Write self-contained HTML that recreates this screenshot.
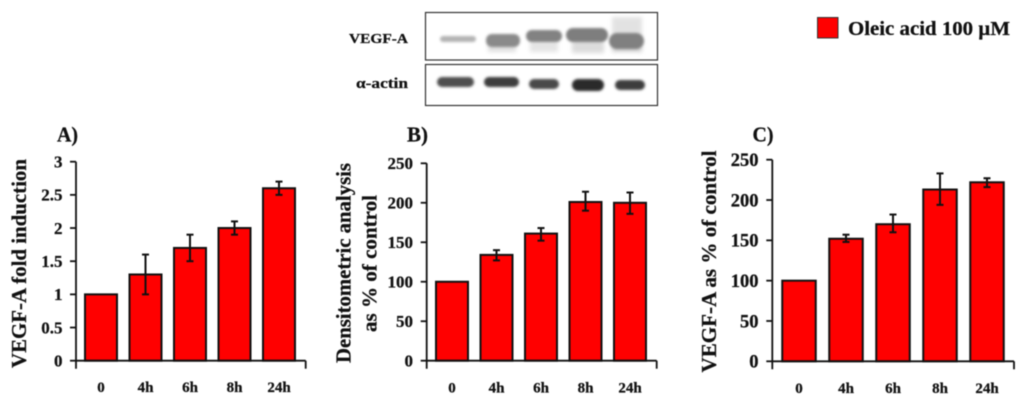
<!DOCTYPE html>
<html lang="en">
<head>
<meta charset="utf-8">
<title>VEGF-A induction by oleic acid</title>
<style>
html,body{margin:0;padding:0;background:#fff;}
body{width:1024px;height:400px;overflow:hidden;}
svg{display:block;filter:blur(0.4px);}
text{font-family:"Liberation Serif",serif;font-weight:bold;fill:#111;stroke:#111;stroke-width:0.25px;}
</style>
</head>
<body>
<svg id="figure" xmlns="http://www.w3.org/2000/svg" width="1024" height="400" viewBox="0 0 1024 400">
  <defs>
    <filter id="blot-blur" x="-30%" y="-80%" width="160%" height="260%"><feGaussianBlur stdDeviation="1.3"/></filter>
    <filter id="smear-blur" x="-30%" y="-50%" width="160%" height="200%"><feGaussianBlur stdDeviation="2"/></filter>
    <clipPath id="blot-clip-top"><rect x="426" y="13" width="231" height="46"/></clipPath>
    <clipPath id="blot-clip-bottom"><rect x="426" y="65" width="231" height="40"/></clipPath>
  </defs>

  <g>
    <g>
      <rect x="425.5" y="12.5" width="232" height="47.5" fill="#fff" stroke="#333" stroke-width="1.2"/>
      <g clip-path="url(#blot-clip-top)">
        <g filter="url(#smear-blur)">
          <rect x="612" y="17" width="30" height="22" fill="#e2e2e2"/>
          <rect x="530" y="40" width="28" height="12" fill="#e4e4e4"/>
          <rect x="572" y="38" width="32" height="15" fill="#dcdcdc"/>
          <rect x="612" y="44" width="30" height="8" fill="#d0d0d0"/>
          <rect x="488" y="44" width="28" height="8" fill="#e0e0e0"/>
        </g>
        <g filter="url(#blot-blur)">
          <rect x="440" y="36" width="36" height="6" rx="3" fill="#b4b4b4"/>
          <rect x="486" y="34" width="34" height="13" rx="6" fill="#8a8a8a"/>
          <rect x="526" y="30" width="36" height="12" rx="6" fill="#828282"/>
          <rect x="566" y="28" width="42" height="14" rx="7" fill="#7e7e7e"/>
          <rect x="609" y="33" width="35" height="16" rx="8" fill="#808080"/>
        </g>
      </g>
    </g>
    <g>
      <rect x="425.5" y="64.5" width="232" height="41" fill="#fff" stroke="#333" stroke-width="1.2"/>
      <g clip-path="url(#blot-clip-bottom)" filter="url(#blot-blur)">
        <rect x="437" y="77" width="37" height="10" rx="5" fill="#505050"/>
        <rect x="484" y="77" width="35" height="10" rx="5" fill="#3c3c3c"/>
        <rect x="529" y="79" width="30" height="10" rx="5" fill="#4a4a4a"/>
        <rect x="572" y="79" width="32" height="12" rx="6" fill="#2c2c2c"/>
        <rect x="615" y="80" width="30" height="10" rx="5" fill="#3e3e3e"/>
      </g>
    </g>
    <text x="349" y="43" font-size="14" textLength="59" lengthAdjust="spacingAndGlyphs">VEGF-A</text>
    <text x="356" y="88" font-size="15" textLength="52" lengthAdjust="spacingAndGlyphs" style='font-family:"Liberation Serif","DejaVu Serif",serif'>α-actin</text>
  </g>

  <g>
    <rect x="817.5" y="17.5" width="20.5" height="20.5" fill="#ff0000" stroke="#333" stroke-width="1"/>
    <text x="848" y="35" font-size="20.5" textLength="162" lengthAdjust="spacingAndGlyphs">Oleic acid 100 µM</text>
  </g>
</svg>

<script>
var categories = ['0', '4h', '6h', '8h', '24h'];

var foldValues = [1, 1.3, 1.7, 2, 2.6];
var foldLower = [null, 1.0, 1.5, 1.9, 2.5];
var foldUpper = [null, 1.6, 1.9, 2.1, 2.7];
var foldTicks = [0, 0.5, 1, 1.5, 2, 2.5, 3];

var densValues = [100, 134, 161, 201, 200];
var densLower = [null, 127, 152, 190, 186];
var densUpper = [null, 140, 168, 214, 213];
var densTicks = [0, 50, 100, 150, 200, 250];

var percentValues = [100, 152, 170, 213, 222];
var percentLower = [null, 148, 160, 194, 216];
var percentUpper = [null, 157, 182, 233, 227];
var percentTicks = [0, 50, 100, 150, 200, 250];

var SVGNS = 'http://www.w3.org/2000/svg';
var root = document.getElementById('figure');

function make(parent, tag, attrs, text) {
  var el = document.createElementNS(SVGNS, tag);
  for (var k in attrs) el.setAttribute(k, attrs[k]);
  if (text !== undefined) el.textContent = text;
  parent.appendChild(el);
  return el;
}

function drawChart(cfg) {
  var group = make(root, 'g', {});
  
  

  var maxTick = cfg.ticks[cfg.ticks.length - 1];
  function yScale(v) { return cfg.y0 - (v / maxTick) * (cfg.y0 - cfg.yTop); }
  function xScale(i) { return cfg.x0 + cfg.step * i; }

  // panel letter
  var letter = make(group, 'text', {x: cfg.letterX, y: 141.5, 'font-size': 21, textLength: 21, lengthAdjust: 'spacingAndGlyphs'}, cfg.letter);
  
  

  // y titles
  cfg.titles.forEach(function (t) {
    var title = make(group, 'text', {
      transform: 'translate(' + t.x + ',' + t.y + ') rotate(-90)',
      'font-size': 21, textLength: t.len, lengthAdjust: 'spacingAndGlyphs'
    }, t.text);
    
    
  });

  // bars
  categories.forEach(function (c, i) {
    var top = yScale(cfg.values[i]);
    var bar = make(group, 'rect', {
      x: xScale(i) - cfg.barW / 2, y: top, width: cfg.barW, height: cfg.y0 - top,
      fill: '#ff0000', stroke: '#111', 'stroke-width': 2
    });
    
    
  });

  // error bars
  categories.forEach(function (c, i) {
    if (cfg.lower[i] === null) return;
    var err = make(group, 'g', {stroke: '#111', 'stroke-width': 2, fill: 'none'});
    
    
    var cx = xScale(i), lo = yScale(cfg.lower[i]), hi = yScale(cfg.upper[i]);
    make(err, 'line', {x1: cx, x2: cx, y1: lo, y2: hi});
    make(err, 'line', {x1: cx - 3.5, x2: cx + 3.5, y1: lo, y2: lo});
    make(err, 'line', {x1: cx - 3.5, x2: cx + 3.5, y1: hi, y2: hi});
  });

  // y axis
  var yAxis = make(group, 'g', {stroke: '#111', 'stroke-width': 1.8});
  
  
  make(yAxis, 'line', {x1: cfg.axisX, x2: cfg.axisX, y1: cfg.yTop, y2: cfg.y0 + 8});
  cfg.ticks.forEach(function (t) {
    var y = yScale(t);
    make(yAxis, 'line', {x1: cfg.axisX - 6, x2: cfg.axisX, y1: y, y2: y});
  });
  cfg.ticks.forEach(function (t) {
    var y = yScale(t);
    var label = make(group, 'text', {
      x: cfg.labelRight, y: y + cfg.labelFont * 0.34,
      'text-anchor': 'end', 'font-size': cfg.labelFont
    }, String(t));
    
    
  });

  // x axis
  var xAxis = make(group, 'g', {stroke: '#111', 'stroke-width': 1.8});
  
  
  make(xAxis, 'line', {x1: cfg.axisX, x2: cfg.axisEnd, y1: cfg.y0, y2: cfg.y0});
  make(xAxis, 'line', {x1: cfg.axisEnd, x2: cfg.axisEnd, y1: cfg.y0, y2: cfg.y0 + 8});

  categories.forEach(function (c, i) {
    var label = make(group, 'text', {
      transform: 'translate(' + xScale(i) + ',' + cfg.xLabelY + ')',
      'text-anchor': 'middle', 'font-size': 15
    }, c);
    
    
  });
}

drawChart({
  id: 'fold-induction', letter: 'A)', letterX: 57,
  values: foldValues, lower: foldLower, upper: foldUpper, ticks: foldTicks,
  axisX: 76, axisEnd: 305.7, yTop: 161.7, y0: 360.7,
  x0: 101, step: 44.5, barW: 32, labelRight: 62.5, labelFont: 17, xLabelY: 392,
  titles: [{x: 26, y: 368, len: 209, text: 'VEGF-A fold induction'}]
});

drawChart({
  id: 'densitometric', letter: 'B)', letterX: 407,
  values: densValues, lower: densLower, upper: densUpper, ticks: densTicks,
  axisX: 426.7, axisEnd: 656.7, yTop: 163.3, y0: 360.7,
  x0: 452, step: 44.5, barW: 32, labelRight: 413, labelFont: 17, xLabelY: 392.5,
  titles: [
    {x: 350.5, y: 363, len: 200, text: 'Densitometric analysis'},
    {x: 376.5, y: 332, len: 137, text: 'as % of control'}
  ]
});

drawChart({
  id: 'vegf-percent', letter: 'C)', letterX: 752.5,
  values: percentValues, lower: percentLower, upper: percentUpper, ticks: percentTicks,
  axisX: 772.3, axisEnd: 1014, yTop: 159.7, y0: 361.3,
  x0: 799, step: 47, barW: 33.5, labelRight: 758.5, labelFont: 18.5, xLabelY: 393,
  titles: [{x: 716, y: 372.5, len: 222, text: 'VEGF-A as % of control'}]
});
</script>
</body>
</html>
